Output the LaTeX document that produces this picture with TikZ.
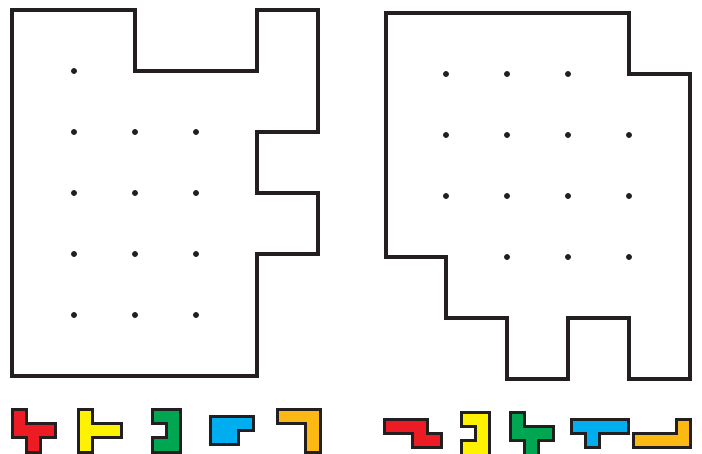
\documentclass[tikz,border=0pt]{standalone}
\definecolor{pred}{HTML}{ED1C24}
\definecolor{pyel}{HTML}{FFF200}
\definecolor{pgrn}{HTML}{00A651}
\definecolor{pblu}{HTML}{00AEEF}
\definecolor{pora}{HTML}{FDB913}
\definecolor{ink}{HTML}{231F20}
\begin{document}
\begin{tikzpicture}[x=1pt,y=-1pt,
  board/.style={draw=ink,line width=3.3pt,line join=miter},
  dot/.style={fill=ink},
  piece/.style={draw=ink,line width=3pt,line join=miter}]
\useasboundingbox (0,0) rectangle (702,453);
% left board
\draw[board] (12,10) -- (135,10) -- (135,71) -- (257,71) -- (257,10) -- (318,10) -- (318,132) -- (257,132) -- (257,193) -- (318,193) -- (318,254) -- (257,254) -- (257,376) -- (12,376) -- cycle;
\foreach \p in {(74,71),(74,132),(135,132),(196,132),(74,193),(135,193),(196,193),(74,254),(135,254),(196,254),(74,315),(135,315),(196,315)}
  \fill[dot] \p circle (3);
% right board
\draw[board] (386,13) -- (629,13) -- (629,74) -- (690,74) -- (690,379) -- (629,379) -- (629,318) -- (568,318) -- (568,379) -- (507,379) -- (507,318) -- (446,318) -- (446,257) -- (386,257) -- cycle;
\foreach \p in {(446,74),(507,74),(568,74),(446,135),(507,135),(568,135),(629,135),(446,196),(507,196),(568,196),(629,196),(507,257),(568,257),(629,257)}
  \fill[dot] \p circle (3);
% pieces, left
\begin{scope}[shift={(12pt,-409pt)},x=14.4pt,y=-14.4pt]
\draw[piece,fill=pred] (0,0)--(1,0)--(1,1)--(3,1)--(3,2)--(2,2)--(2,3)--(1,3)--(1,2)--(0,2)--cycle;
\end{scope}
\begin{scope}[shift={(78pt,-409pt)},x=14.4pt,y=-14.4pt]
\draw[piece,fill=pyel] (0,0)--(1,0)--(1,1)--(3,1)--(3,2)--(1,2)--(1,3)--(0,3)--cycle;
\end{scope}
\begin{scope}[shift={(152pt,-409pt)},x=14.4pt,y=-14.4pt]
\draw[piece,fill=pgrn] (0,0)--(2,0)--(2,3)--(0,3)--(0,2)--(1,2)--(1,1)--(0,1)--cycle;
\end{scope}
\begin{scope}[shift={(210pt,-416pt)},x=14.4pt,y=-14.4pt]
\draw[piece,fill=pblu] (0,0)--(3,0)--(3,1)--(2,1)--(2,2)--(0,2)--cycle;
\end{scope}
\begin{scope}[shift={(277pt,-409pt)},x=14.4pt,y=-14.4pt]
\draw[piece,fill=pora] (0,0)--(3,0)--(3,3)--(2,3)--(2,1)--(0,1)--cycle;
\end{scope}
% pieces, right
\begin{scope}[shift={(384pt,-419pt)},x=14.4pt,y=-14.4pt]
\draw[piece,fill=pred] (0,0)--(3,0)--(3,1)--(4,1)--(4,2)--(2,2)--(2,1)--(0,1)--cycle;
\end{scope}
\begin{scope}[shift={(461pt,-412pt)},x=14.4pt,y=-14.4pt]
\draw[piece,fill=pyel] (0,0)--(2,0)--(2,3)--(0,3)--(0,2)--(1,2)--(1,1)--(0,1)--cycle;
\end{scope}
\begin{scope}[shift={(510pt,-412pt)},x=14.4pt,y=-14.4pt]
\draw[piece,fill=pgrn] (0,0)--(1,0)--(1,1)--(3,1)--(3,2)--(2,2)--(2,3)--(1,3)--(1,2)--(0,2)--cycle;
\end{scope}
\begin{scope}[shift={(571pt,-419pt)},x=14.4pt,y=-14.4pt]
\draw[piece,fill=pblu] (0,0)--(4,0)--(4,1)--(2,1)--(2,2)--(1,2)--(1,1)--(0,1)--cycle;
\end{scope}
\begin{scope}[shift={(633pt,-419pt)},x=14.4pt,y=-14.4pt]
\draw[piece,fill=pora] (3,0)--(4,0)--(4,2)--(0,2)--(0,1)--(3,1)--cycle;
\end{scope}
\end{tikzpicture}
\end{document}
